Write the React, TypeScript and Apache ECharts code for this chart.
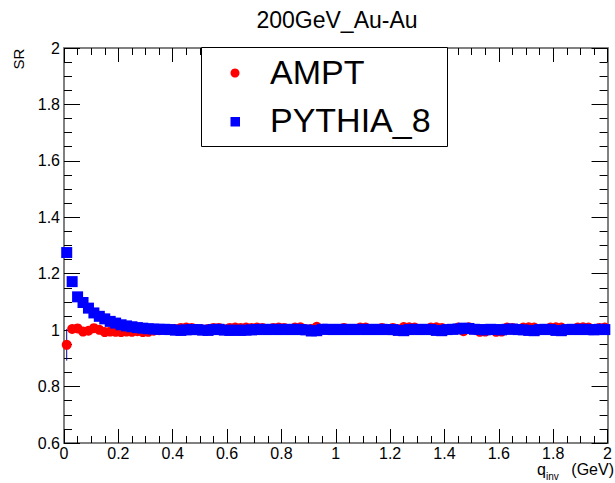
import React, { useEffect, useRef } from "react";
import * as echarts from "echarts";

// bin centres of q_inv (GeV)
const qinv = [
  0.01, 0.03, 0.05, 0.07, 0.09, 0.11, 0.13, 0.15, 0.17, 0.19,
  0.21, 0.23, 0.25, 0.27, 0.29, 0.31, 0.33, 0.35, 0.37, 0.39,
  0.41, 0.43, 0.45, 0.47, 0.49, 0.51, 0.53, 0.55, 0.57, 0.59,
  0.61, 0.63, 0.65, 0.67, 0.69, 0.71, 0.73, 0.75, 0.77, 0.79,
  0.81, 0.83, 0.85, 0.87, 0.89, 0.91, 0.93, 0.95, 0.97, 0.99,
  1.01, 1.03, 1.05, 1.07, 1.09, 1.11, 1.13, 1.15, 1.17, 1.19,
  1.21, 1.23, 1.25, 1.27, 1.29, 1.31, 1.33, 1.35, 1.37, 1.39,
  1.41, 1.43, 1.45, 1.47, 1.49, 1.51, 1.53, 1.55, 1.57, 1.59,
  1.61, 1.63, 1.65, 1.67, 1.69, 1.71, 1.73, 1.75, 1.77, 1.79,
  1.81, 1.83, 1.85, 1.87, 1.89, 1.91, 1.93, 1.95, 1.97, 1.99,
];

const ampt = [
  0.948, 1.004, 1.006, 0.995, 0.998, 1.007, 1.001, 0.993, 0.995, 0.994,
  0.993, 0.995, 0.994, 0.996, 0.993, 0.994, 0.998, 1.000, 1.002, 1.003,
  1.004, 1.008, 1.009, 1.008, 1.003, 1.002, 1.004, 1.008, 1.008, 1.003,
  1.008, 1.009, 1.008, 1.009, 1.008, 1.009, 1.008, 1.003, 1.008, 1.009,
  1.008, 1.003, 1.009, 1.010, 1.003, 1.004, 1.012, 1.004, 1.002, 1.003,
  1.002, 1.008, 1.004, 1.003, 1.009, 1.009, 1.003, 1.002, 1.008, 1.003,
  1.008, 1.003, 1.011, 1.010, 1.009, 1.003, 1.004, 1.009, 1.010, 1.008,
  1.003, 1.004, 1.009, 0.996, 1.010, 1.002, 0.994, 0.995, 1.002, 0.994,
  0.995, 1.009, 1.008, 1.003, 1.009, 1.010, 1.009, 1.003, 1.004, 1.009,
  1.010, 1.009, 1.003, 1.004, 1.009, 1.010, 1.009, 1.003, 1.008, 1.009,
];

const amptErr = [
  0.056, 0.012, 0.008, 0.006, 0.005, 0.005, 0.004, 0.004, 0.004, 0.004,
  0.003, 0.003, 0.003, 0.003, 0.003, 0.003, 0.003, 0.003, 0.003, 0.003,
  0.003, 0.003, 0.003, 0.003, 0.003, 0.003, 0.003, 0.003, 0.003, 0.003,
  0.003, 0.003, 0.003, 0.003, 0.003, 0.003, 0.003, 0.003, 0.003, 0.003,
  0.003, 0.003, 0.003, 0.003, 0.003, 0.003, 0.003, 0.003, 0.003, 0.003,
  0.003, 0.003, 0.003, 0.003, 0.003, 0.003, 0.003, 0.003, 0.003, 0.003,
  0.003, 0.003, 0.003, 0.003, 0.003, 0.003, 0.003, 0.003, 0.003, 0.003,
  0.003, 0.003, 0.003, 0.003, 0.003, 0.003, 0.003, 0.003, 0.003, 0.003,
  0.003, 0.003, 0.003, 0.003, 0.003, 0.003, 0.003, 0.003, 0.003, 0.003,
  0.003, 0.003, 0.003, 0.003, 0.003, 0.003, 0.003, 0.003, 0.003, 0.003,
];

const pythia = [
  1.275, 1.172, 1.118, 1.098, 1.078, 1.061, 1.049, 1.040, 1.031, 1.025,
  1.019, 1.015, 1.012, 1.009, 1.007, 1.005, 1.004, 1.003, 1.003, 1.002,
  1.000, 0.999, 1.001, 1.002, 1.002, 1.000, 0.999, 1.002, 1.003, 1.000,
  0.999, 1.000, 0.999, 1.000, 1.001, 1.002, 1.003, 1.002, 1.003, 1.002,
  1.003, 1.002, 1.003, 1.002, 1.001, 0.997, 0.998, 1.003, 1.003, 1.002,
  1.003, 1.002, 1.003, 1.002, 1.003, 1.002, 1.003, 1.002, 1.003, 1.002,
  1.002, 0.999, 0.998, 1.002, 1.003, 1.002, 1.003, 1.002, 0.999, 0.998,
  1.002, 1.003, 1.004, 1.007, 1.006, 1.003, 1.002, 1.001, 1.003, 1.002,
  1.001, 1.003, 1.004, 1.002, 1.001, 0.999, 0.998, 1.002, 1.003, 1.002,
  0.999, 0.998, 1.002, 1.003, 1.002, 1.003, 1.002, 1.001, 1.003, 1.002,
];

const seriesNames = ["AMPT", "PYTHIA_8"];
const chartTitle = "200GeV_Au-Au";
const yTitle = "SR";
const xMin = 0, xMax = 2, xStep = 0.2;
const yMin = 0.6, yMax = 2, yStep = 0.2;

const FONT = "'Liberation Sans', Arial, Helvetica, sans-serif";

export default function App() {
  const ref = useRef<HTMLDivElement>(null);

  useEffect(() => {
    if (!ref.current) return;
    const chart = echarts.init(ref.current, null, { renderer: "svg" });

    const axisLine = { show: true, onZero: false, lineStyle: { color: "#808080", width: 2 } };
    const xTick = { show: true, inside: true, length: 14, lineStyle: { color: "#000", width: 1 } };
    const xMinor = { show: true, splitNumber: 4, length: 7, lineStyle: { color: "#000", width: 1 } };
    const yTick = { show: true, inside: true, length: 16, lineStyle: { color: "#000", width: 1 } };
    const yMinor = { show: true, splitNumber: 4, length: 8, lineStyle: { color: "#000", width: 1 } };
    const label = { color: "#000", fontSize: 16, fontFamily: FONT };

    chart.setOption({
      animation: false,
      backgroundColor: "#fff",
      grid: { left: 64, right: 3, top: 48, bottom: 40, containLabel: false },
      xAxis: [
        {
          type: "value", min: xMin, max: xMax, interval: xStep, position: "bottom",
          axisLine, axisTick: xTick, minorTick: xMinor, splitLine: { show: false },
          axisLabel: { ...label, margin: 2 },
        },
        {
          type: "value", min: xMin, max: xMax, interval: xStep, position: "top",
          axisLine, axisTick: xTick, minorTick: xMinor, splitLine: { show: false },
          axisLabel: { show: false },
        },
      ],
      yAxis: [
        {
          type: "value", min: yMin, max: yMax, interval: yStep, position: "left",
          axisLine, axisTick: yTick, minorTick: yMinor, splitLine: { show: false },
          axisLabel: { ...label, margin: 4 },
        },
        {
          type: "value", min: yMin, max: yMax, interval: yStep, position: "right",
          axisLine, axisTick: yTick, minorTick: yMinor, splitLine: { show: false },
          axisLabel: { show: false },
        },
      ],
      series: [
        {
          type: "custom",
          name: seriesNames[0] + " errors",
          xAxisIndex: 0, yAxisIndex: 0,
          data: qinv.map((q, i) => [q, ampt[i], amptErr[i]]),
          encode: { x: 0, y: 1 },
          renderItem: (params: any, api: any) => {
            const x = api.value(0), y = api.value(1), e = api.value(2);
            const p1 = api.coord([x, y - e]);
            const p2 = api.coord([x, y + e]);
            return {
              type: "line",
              shape: { x1: p1[0], y1: p1[1], x2: p2[0], y2: p2[1] },
              style: { stroke: "#000099", lineWidth: 1 },
            };
          },
          z: 2,
        },
        {
          type: "scatter", name: seriesNames[0], xAxisIndex: 0, yAxisIndex: 0,
          data: qinv.map((q, i) => [q, ampt[i]]),
          symbol: "circle", symbolSize: 10,
          itemStyle: { color: "#ff0000", opacity: 1 },
          z: 3,
        },
        {
          type: "scatter", name: seriesNames[1], xAxisIndex: 0, yAxisIndex: 0,
          data: qinv.map((q, i) => [q, pythia[i]]),
          symbol: "rect", symbolSize: 11,
          itemStyle: { color: "#0000ff", opacity: 1 },
          z: 4,
        },
      ],
      graphic: [
        {
          type: "text", x: 337, y: 20,
          style: { text: chartTitle, font: `23px ${FONT}`, fill: "#000", align: "center", verticalAlign: "middle" },
        },
        {
          type: "text", x: 18, y: 59, rotation: Math.PI / 2,
          style: { text: yTitle, font: `15px ${FONT}`, fill: "#000", align: "center", verticalAlign: "middle" },
        },
        {
          type: "text", x: 546, y: 469,
          style: { text: "q", font: `16px ${FONT}`, fill: "#000", align: "right", verticalAlign: "middle" },
        },
        {
          type: "text", x: 546, y: 476,
          style: { text: "inv", font: `10px ${FONT}`, fill: "#000", align: "left", verticalAlign: "middle" },
        },
        {
          type: "text", x: 614, y: 469,
          style: { text: "(GeV)", font: `16px ${FONT}`, fill: "#000", align: "right", verticalAlign: "middle" },
        },
        {
          type: "rect", z: 10,
          shape: { x: 201.5, y: 47.5, width: 246, height: 99 },
          style: { fill: "#fff", stroke: "#000", lineWidth: 1 },
        },
        {
          type: "circle", z: 11,
          shape: { cx: 235, cy: 73, r: 4.5 },
          style: { fill: "#ff0000" },
        },
        {
          type: "rect", z: 11,
          shape: { x: 230.5, y: 117, width: 9.5, height: 9.5 },
          style: { fill: "#0000ff" },
        },
        {
          type: "text", x: 270, y: 72, z: 11,
          style: { text: seriesNames[0], font: `34px ${FONT}`, fill: "#000", align: "left", verticalAlign: "middle" },
        },
        {
          type: "text", x: 270, y: 120, z: 11,
          style: { text: seriesNames[1], font: `34px ${FONT}`, fill: "#000", align: "left", verticalAlign: "middle" },
        },
      ],
    });

    return () => chart.dispose();
  }, []);

  return (
    <div
      ref={ref}
      style={{ position: "fixed", left: 0, top: 0, width: 615, height: 483, background: "#fff" }}
    />
  );
}
